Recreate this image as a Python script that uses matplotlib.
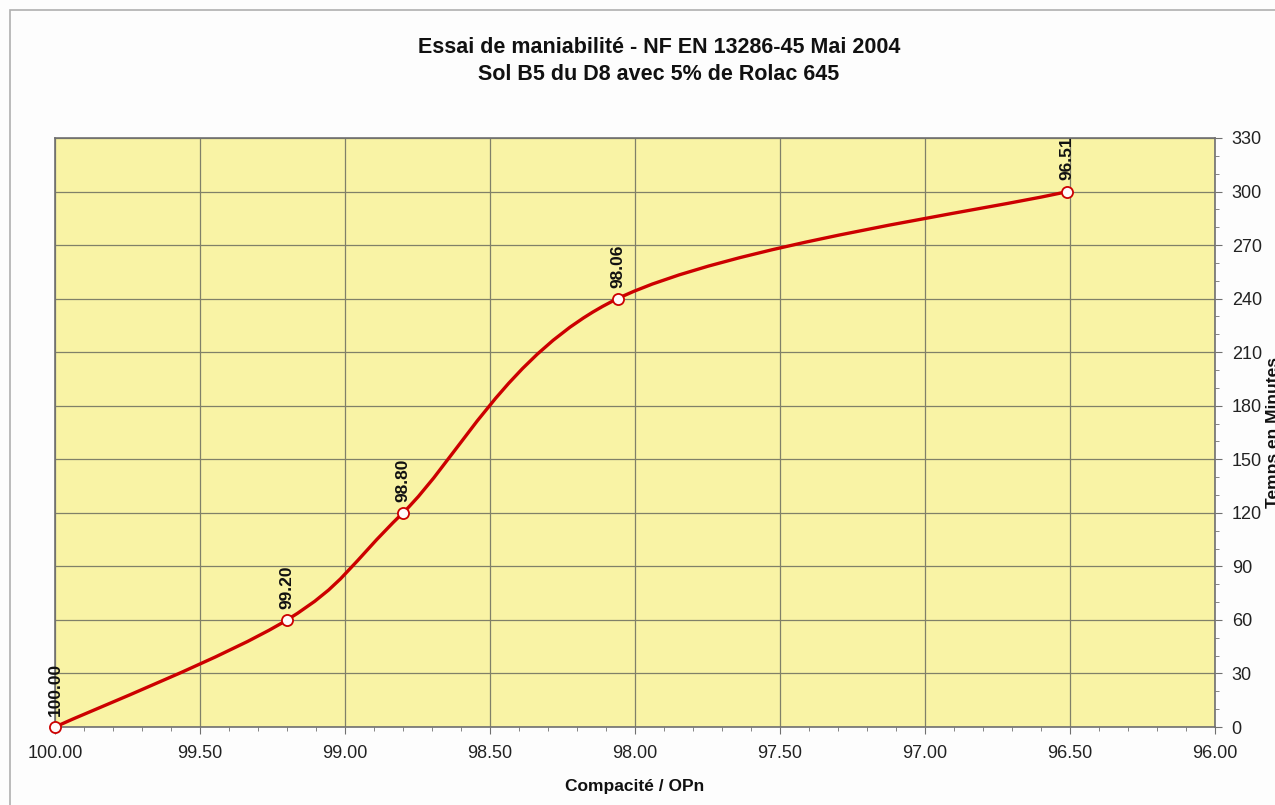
import numpy as np
import matplotlib
matplotlib.use("Agg")
import matplotlib.pyplot as plt
from matplotlib.path import Path
from matplotlib.patches import PathPatch, Rectangle
from matplotlib.ticker import MultipleLocator, FormatStrFormatter

# donnees
compacite = [100.00, 99.20, 98.80, 98.06, 96.51]
temps = [0, 60, 120, 240, 300]
etiquettes = ["100.00", "99.20", "98.80", "98.06", "96.51"]

titre = "Essai de maniabilité - NF EN 13286-45 Mai 2004\nSol B5 du D8 avec 5% de Rolac 645"

plt.rcParams['font.family'] = ['Liberation Sans', 'DejaVu Sans']

fig = plt.figure(figsize=(12.75, 8.05), dpi=100, facecolor="#fdfdfd")

# cadre exterieur du graphique
fig.patches.append(Rectangle((10 / 1275, -0.1), 1.2, (795 / 805) + 0.1,
                             transform=fig.transFigure, fill=False,
                             edgecolor="#b0b0b0", linewidth=1.2))

ax = fig.add_axes([55 / 1275, 78 / 805, 1160 / 1275, 589 / 805])
ax.set_facecolor("#f9f3a5")

ax.set_xlim(100, 96)
ax.set_ylim(0, 330)
ax.xaxis.set_major_locator(MultipleLocator(0.5))
ax.xaxis.set_minor_locator(MultipleLocator(0.1))
ax.xaxis.set_major_formatter(FormatStrFormatter("%.2f"))
ax.yaxis.set_major_locator(MultipleLocator(30))
ax.yaxis.set_minor_locator(MultipleLocator(10))
ax.yaxis.tick_right()
ax.yaxis.set_label_position("right")

ax.grid(True, which="major", color="#808068", linewidth=0.9)
ax.set_axisbelow(True)
for s in ax.spines.values():
    s.set_color("#707070")
    s.set_linewidth(1.2)
ax.tick_params(which="major", direction="out", length=5, color="#707070",
               labelsize=13, labelcolor="#222222")
ax.tick_params(axis="x", which="major", pad=8)
ax.tick_params(axis="y", which="major", pad=7)
ax.tick_params(which="minor", direction="out", length=3, color="#707070")

# courbe lissee (style tableur) : segments de Bezier cubiques
pts = np.column_stack([compacite, temps]).astype(float)
n = len(pts)
verts = [tuple(pts[0])]
codes = [Path.MOVETO]
for i in range(n - 1):
    p0 = pts[i - 1] if i > 0 else pts[i]
    p1 = pts[i]
    p2 = pts[i + 1]
    p3 = pts[i + 2] if i + 2 < n else pts[i + 1]
    c1 = p1 + (p2 - p0) / 6.0
    c2 = p2 - (p3 - p1) / 6.0
    verts += [tuple(c1), tuple(c2), tuple(p2)]
    codes += [Path.CURVE4] * 3
ax.add_patch(PathPatch(Path(verts, codes), facecolor="none",
                       edgecolor="#cc0000", linewidth=2.4, zorder=3))

ax.plot(compacite, temps, linestyle="none", marker="o", markersize=8,
        markerfacecolor="#fffafa", markeredgecolor="#cc0000",
        markeredgewidth=1.3, zorder=4, clip_on=False)

for x, y, lab in zip(compacite, temps, etiquettes):
    ax.annotate(lab, (x, y), xytext=(0, 8), textcoords="offset points",
                rotation=90, ha="center", va="bottom", fontsize=12.5,
                fontweight="bold", color="#111111", zorder=5)

ax.set_xlabel("Compacité / OPn", fontsize=12.5, fontweight="bold",
              color="#111111", labelpad=12)
ax.set_ylabel("Temps en Minutes", fontsize=12.5, fontweight="bold",
              color="#111111")
ax.yaxis.set_label_coords((1266 - 55) / 1160, 0.5)

fig.text(659 / 1275, 1 - 61 / 805, titre, ha="center", va="center",
         fontsize=15.5, fontweight="bold", color="#111111", linespacing=1.4)

fig.savefig("out.png", dpi=100, facecolor=fig.get_facecolor())
